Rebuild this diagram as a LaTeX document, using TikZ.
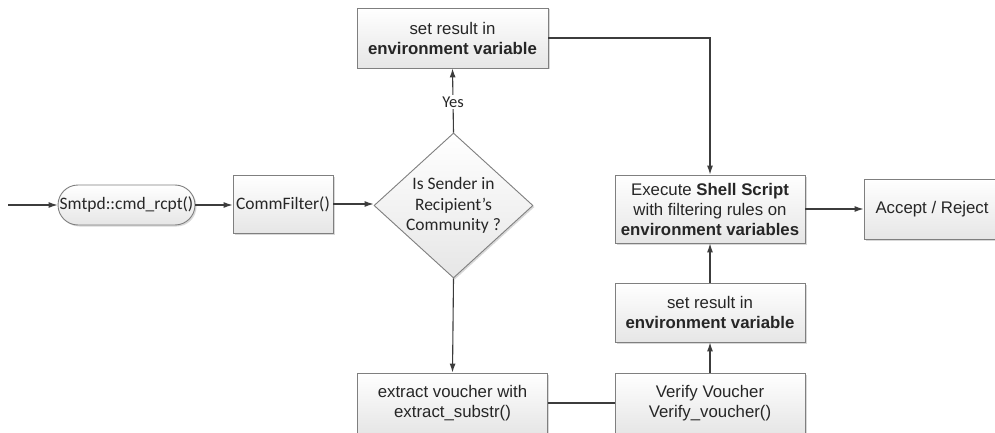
\documentclass[tikz,border=0pt]{standalone}
\usepackage{fontspec}
\setmainfont{Liberation Sans}
\newfontfamily\calfont{Carlito}
\usetikzlibrary{shapes.geometric,arrows.meta,shadows}
\definecolor{edgegray}{HTML}{7F7F7F}
\definecolor{linegray}{HTML}{3C3C3C}
\definecolor{fillbot}{HTML}{E6E6E6}
\tikzset{
  box/.style={draw=edgegray, line width=0.9pt, top color=white, bottom color=fillbot,
    drop shadow={shadow xshift=1.5pt, shadow yshift=-1.5pt, fill=black!25, opacity=0.6},
    align=center, inner sep=0pt, font=\fontsize{16.8}{20}\selectfont, text=black!85},
  pill/.style={box, rounded corners=20pt, font=\calfont\fontsize{17.5}{20}\selectfont},
  decision/.style={diamond, draw=edgegray, line width=0.9pt, top color=white, bottom color=fillbot,
    drop shadow={shadow xshift=1.5pt, shadow yshift=-1.5pt, fill=black!25, opacity=0.6},
    aspect=1.1, align=center, inner sep=0pt, text=black!85,
    font=\calfont\fontsize{17.5}{20.5}\selectfont},
  conn/.style={draw=linegray, line width=1.1pt},
  flow/.style={conn, -{Latex[length=9pt,width=6pt]}},
}
\begin{document}
\begin{tikzpicture}[x=1pt,y=-1pt]
\useasboundingbox (0,0) rectangle (995,433);
\fill[white] (0,0) rectangle (995,433);

% start of the process
\coordinate (start) at (8,205);
\node[pill, minimum width=137pt, minimum height=40pt] (smtpd) at (126.5,205) {Smtpd::cmd\_rcpt()};
\node[box, font=\calfont\fontsize{17.5}{20}\selectfont, minimum width=100pt, minimum height=58pt] (comm) at (283,204) {CommFilter()};
\node[decision, minimum width=159pt, minimum height=145pt] (dec) at (453.5,205.5) {Is Sender in\\Recipient’s\\Community ?};

% upper branch
\node[box, minimum width=191pt, minimum height=60pt] (set1) at (452.5,38) {set result in\\\textbf{environment variable}};

% shell script stage
\node[box, minimum width=190pt, minimum height=68pt] (exec) at (710,209) {Execute \textbf{Shell Script}\\with filtering rules on\\\textbf{environment variables}};
\node[box, minimum width=136pt, minimum height=60pt] (accept) at (932,209) {Accept / Reject};

% lower branch
\node[box, minimum width=190pt, minimum height=59pt] (set2) at (710,312.5) {set result in\\\textbf{environment variable}};
\node[box, minimum width=190pt, minimum height=60pt] (extract) at (452.5,403) {extract voucher with\\extract\_substr()};
\node[box, minimum width=190pt, minimum height=60pt] (verify) at (710,403) {Verify Voucher\\Verify\_voucher()};

% connectors
\draw[flow] (start) -- (smtpd.west);
\draw[flow] (smtpd.east) -- (smtpd.east -| comm.west);
\draw[flow] (comm.east) -- (comm.east -| dec.west);
\draw[flow] (dec.north) -- node[fill=white, inner sep=1.5pt, text=black!85, font=\calfont\fontsize{16.5}{18}\selectfont, pos=0.48] {Yes} (set1.south);
\draw[flow] (set1.east) -| (exec.north);
\draw[flow] (exec.east) -- (exec.east -| accept.west);
\draw[flow] (dec.south) -- (extract.north);
\draw[conn] (extract.east) -- (verify.west);
\draw[flow] (verify.north) -- (set2.south);
\draw[flow] (set2.north) -- (exec.south);
\end{tikzpicture}
\end{document}
